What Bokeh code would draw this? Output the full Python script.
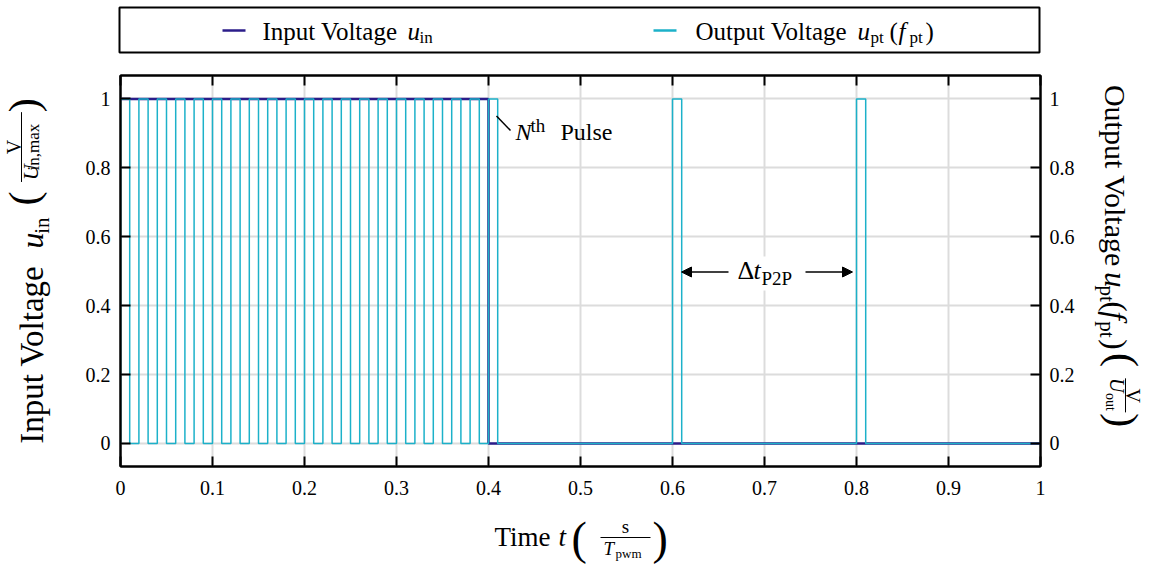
import math
from bokeh.plotting import figure
from bokeh.layouts import column, row
from bokeh.core.properties import value
from bokeh.models import (LinearAxis, FixedTicker, Arrow, NormalHead,
                          PolyAnnotation, BoxAnnotation, Range1d,
                          CustomJSTickFormatter)
from bokeh.embed import file_html
from bokeh.resources import INLINE

# ---------------- data ----------------
input_time = [0.0, 0.4, 0.4, 1.0]
input_voltage = [1.0, 1.0, 0.0, 0.0]

pulse_starts = [0.00, 0.02, 0.04, 0.06, 0.08, 0.10, 0.12, 0.14, 0.16, 0.18,
                0.20, 0.22, 0.24, 0.26, 0.28, 0.30, 0.32, 0.34, 0.36, 0.38,
                0.40, 0.60, 0.80]
pulse_width = 0.01
pulse_high = 1.0

x_ticks = [0.0, 0.1, 0.2, 0.3, 0.4, 0.5, 0.6, 0.7, 0.8, 0.9, 1.0]
x_tick_labels = ["0", "0.1", "0.2", "0.3", "0.4", "0.5", "0.6", "0.7", "0.8", "0.9", "1"]
y_ticks = [0.0, 0.2, 0.4, 0.6, 0.8, 1.0]
y_tick_labels = ["0", "0.2", "0.4", "0.6", "0.8", "1"]

# build output step trace from pulse data
out_t, out_v = [0.0], [0.0]
for s in pulse_starts:
    out_t += [s, s, s + pulse_width, s + pulse_width]
    out_v += [0.0, pulse_high, pulse_high, 0.0]
out_t.append(1.0)
out_v.append(0.0)

# ---------------- page geometry (pixels) ----------------
W, H = 1153, 568
FL, FR, FT, FB = 120, 1040, 75, 466          # plot frame on the page
ML, MR, MT, MB = 60, 1093, 60, 508           # main figure box on the page
Y0, Y1 = -0.067, 1.068
FONT = "Liberation Serif"
C_IN = "#2b1d8a"
C_OUT = "#1cb1c9"
MID = 0.34   # baseline offset below the text middle, in em

p = figure(width=MR - ML, height=MB - MT, x_range=Range1d(0, 1), y_range=Range1d(Y0, Y1),
           output_backend="svg", toolbar_location=None,
           min_border_left=FL - ML, min_border_right=MR - FR,
           min_border_top=FT - MT, min_border_bottom=MB - FB)
p.background_fill_color = "white"
p.border_fill_color = "white"
p.outline_line_color = "black"
p.outline_line_width = 2


def fmt(tv, tl):
    return CustomJSTickFormatter(args=dict(tv=tv, tl=tl), code="""
        let best = -1, bd = 1e9;
        for (let i = 0; i < tv.length; i++) {
            const d = Math.abs(tv[i] - tick);
            if (d < bd) { bd = d; best = i; }
        }
        return bd < 1e-6 ? tl[best] : '';
    """)


def style_axis(ax, tv, tl, show_labels=True, standoff=10):
    ax.ticker = FixedTicker(ticks=tv)
    ax.formatter = fmt(tv, tl) if show_labels else CustomJSTickFormatter(code="return '';")
    ax.axis_line_color = "black"
    ax.axis_line_width = 2
    ax.major_tick_in = 10
    ax.major_tick_out = 0
    ax.major_tick_line_width = 2
    ax.major_tick_line_color = "black"
    ax.minor_tick_line_color = None
    ax.major_label_text_font = FONT
    ax.major_label_text_font_size = "20px" if show_labels else "1px"
    ax.major_label_text_color = "black"
    ax.major_label_standoff = standoff
    ax.axis_label = None


style_axis(p.xaxis[0], x_ticks, x_tick_labels, standoff=14)
style_axis(p.yaxis[0], y_ticks, y_tick_labels, standoff=10)
top_ax = LinearAxis()
style_axis(top_ax, x_ticks, x_tick_labels, show_labels=False, standoff=0)
p.add_layout(top_ax, "above")
right_ax = LinearAxis()
style_axis(right_ax, y_ticks, y_tick_labels, standoff=9)
p.add_layout(right_ax, "right")

p.xgrid.ticker = FixedTicker(ticks=x_ticks)
p.ygrid.ticker = FixedTicker(ticks=y_ticks)
for g in (p.xgrid[0], p.ygrid[0]):
    g.grid_line_color = "#dcdcdc"
    g.grid_line_width = 2

# ---------------- series ----------------
p.line(input_time, input_voltage, line_color=C_IN, line_width=2.5)
p.line(out_t, out_v, line_color=C_OUT, line_width=1.5)


# ---------------- strip figures in page-pixel coordinates ----------------
def strip(x0, x1, y0, y1):
    f = figure(width=x1 - x0, height=y1 - y0, x_range=Range1d(x0, x1),
               y_range=Range1d(y1, y0), output_backend="svg",
               toolbar_location=None, min_border=0,
               x_axis_location=None, y_axis_location=None)
    f.outline_line_color = None
    f.background_fill_color = "white"
    f.border_fill_color = "white"
    f.xgrid.visible = False
    f.ygrid.visible = False
    return f


top = strip(0, W, 0, MT)
left = strip(0, ML, MT, MB)
right = strip(MR, W, MT, MB)
bottom = strip(0, W, MB, H)


def ident(px, py):
    return px, py


def to_main(px, py):
    return (px - FL) / (FR - FL), Y1 - (py - FT) * (Y1 - Y0) / (FB - FT)


def _txt(f, s, x, y, size, italic, angle, align):
    f.text(x=[x], y=[y], text=[s], text_font=value(FONT),
           text_font_size=value(f"{size}px"),
           text_font_style=value("italic" if italic else "normal"),
           angle=angle, text_align=value(align), text_baseline=value("middle"),
           text_color="black")


def T(f, s, px, base_y, size, italic=False, align="left", conv=ident):
    """horizontal text: px = left (or centre) x, base_y = baseline y (page px)"""
    x, y = conv(px, base_y - MID * size)
    _txt(f, s, x, y, size, italic, 0.0, align)


def R(f, s, cx, cy, size, angle, italic=False):
    """rotated text centred on (cx, cy) page px"""
    _txt(f, s, cx, cy, size, italic, angle, "center")


def seg(f, x0, y0, x1, y1, color="black", width=1.2, conv=ident):
    a, b = conv(x0, y0)
    c, d = conv(x1, y1)
    f.add_layout(Arrow(end=None, start=None, x_start=a, y_start=b,
                       x_end=c, y_end=d, line_color=color, line_width=width))


# ---------------- legend (top strip) ----------------
top.add_layout(PolyAnnotation(xs=[119, 1039, 1039, 119], ys=[7, 7, 52, 52],
                              fill_color="white", fill_alpha=0.0,
                              line_color="black", line_alpha=1.0, line_width=2))
seg(top, 222, 30, 245, 30, C_IN, 2.5)
T(top, "Input Voltage", 262, 39, 25)
T(top, "u", 407, 39, 25, italic=True)
T(top, "in", 419, 43, 17)
seg(top, 653, 30, 676, 30, C_OUT, 2.5)
T(top, "Output Voltage", 695, 39, 25)
T(top, "u", 857, 39, 25, italic=True)
T(top, "pt", 870, 43, 17)
T(top, "(", 889, 39, 25)
T(top, "f", 898, 39, 25, italic=True)
T(top, "pt", 909, 43, 17)
T(top, ")", 925, 39, 25)

# ---------------- N-th pulse annotation (main) ----------------
seg(p, 496, 115.5, 510, 130, "black", 1.5, conv=to_main)
T(p, "N", 515, 140, 24, italic=True, conv=to_main)
T(p, "th", 530, 131, 19, conv=to_main)
T(p, "Pulse", 560, 140, 24, conv=to_main)

# ---------------- Delta t annotation (main) ----------------
bx0, by0 = to_main(733, 256)
bx1, by1 = to_main(801, 290)
p.add_layout(BoxAnnotation(left=bx0, right=bx1, top=by0, bottom=by1, level="underlay",
                           fill_color="white", fill_alpha=1.0, line_color=None))
for (sx, ex) in ((728, 681), (805, 852)):
    a, b = to_main(sx, 271.5)
    c, d = to_main(ex, 271.5)
    p.add_layout(Arrow(end=NormalHead(size=10, fill_color="black", line_color="black"),
                       x_start=a, y_start=b, x_end=c, y_end=d, line_width=1.5))
T(p, "\u0394", 737, 279, 26, conv=to_main)
T(p, "t", 753, 279, 26, italic=True, conv=to_main)
T(p, "P2P", 761, 284, 19, conv=to_main)

# ---------------- x-axis label (bottom strip) ----------------
T(bottom, "Time", 494, 546, 27)
T(bottom, "t", 558, 546, 27, italic=True)
_txt(bottom, "(", 571, 538, 46, False, 0.0, "left")
T(bottom, "s", 625, 532, 19, align="center")
seg(bottom, 600, 537, 650, 537, "black", 1.0)
T(bottom, "T", 603, 554, 19, italic=True)
T(bottom, "pwm", 615, 557, 13)
_txt(bottom, ")", 652, 538, 46, False, 0.0, "left")

# ---------------- left y-axis label (rotated CCW, reads upward) ----------------
A = math.pi / 2
R(left, "Input Voltage", 31, 380, 33, A)
R(left, "u", 31, 249, 32, A, italic=True)
R(left, "in", 41, 232, 21, A)
R(left, "(", 23, 201, 42, A)
R(left, "V", 13, 142, 20, A)
seg(left, 21, 182, 21, 102, "black", 1.0)
R(left, "U", 30, 171, 22, A, italic=True)
R(left, "in,max", 33, 142, 17, A)
R(left, ")", 23, 94, 42, A)

# ---------------- right y-axis label (rotated CW, reads downward) ----------------
B = -math.pi / 2
R(right, "Output Voltage", 1115, 175, 30, B)
R(right, "u", 1115, 294, 31, B, italic=True)
R(right, "pt", 1106, 310, 21, B)
R(right, "(", 1115, 325, 31, B)
R(right, "f", 1115, 335, 31, B, italic=True)
R(right, "pt", 1106, 351, 21, B)
R(right, ")", 1115, 368, 31, B)
R(right, "(", 1122, 386, 42, B)
R(right, "V", 1132, 427, 20, B)
seg(right, 1125, 407, 1125, 446, "black", 1.0)
R(right, "U", 1116, 415, 20, B, italic=True)
R(right, "out", 1110, 434, 14, B)
R(right, ")", 1122, 455, 42, B)

layout = column(top, row(left, p, right), bottom)
open("out.html", "w").write(file_html(layout, INLINE))
